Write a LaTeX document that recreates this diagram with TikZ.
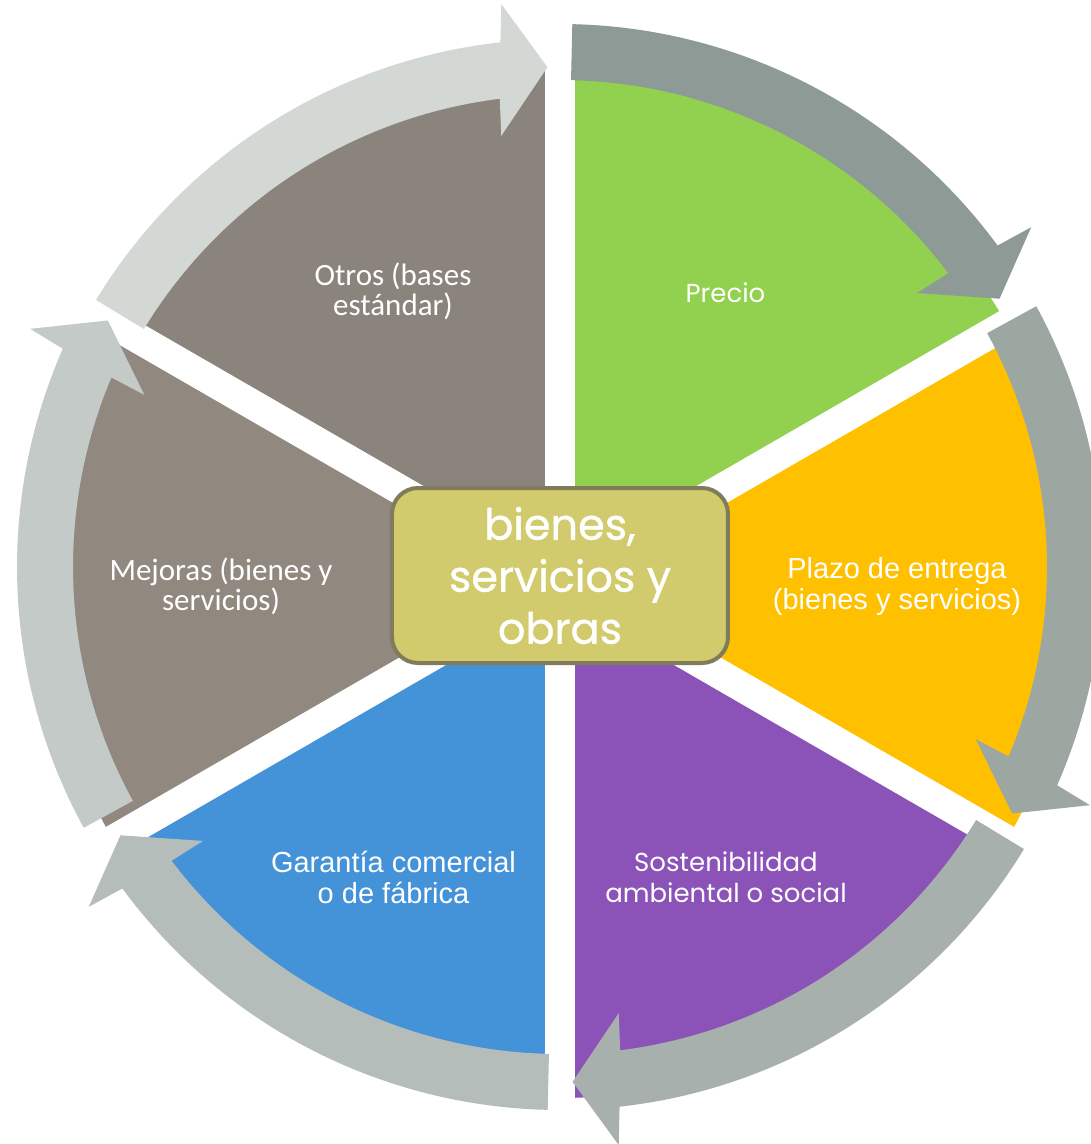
\documentclass[tikz,border=0pt]{standalone}
\usepackage{fontspec}
\newfontfamily\poppinsf{Poppins}
\newfontfamily\poppinsbf[FakeBold=0.9]{Poppins}
\newfontfamily\arialf{Liberation Sans}
\newfontfamily\calibf{Carlito}
\definecolor{cPrecio}{HTML}{92D050}
\definecolor{cPlazo}{HTML}{FFC000}
\definecolor{cSost}{HTML}{8B52B7}
\definecolor{cGar}{HTML}{4492D8}
\definecolor{cMej}{HTML}{918980}
\definecolor{cOtros}{HTML}{8B847C}
\definecolor{aA}{HTML}{8E9A96}
\definecolor{aB}{HTML}{9DA7A2}
\definecolor{aC}{HTML}{A8B0AD}
\definecolor{aD}{HTML}{B5BDBA}
\definecolor{aE}{HTML}{C4CAC8}
\definecolor{aF}{HTML}{D3D8D5}
\definecolor{cBox}{HTML}{D1CB6E}
\definecolor{cBoxLine}{HTML}{7F7B5B}
% sector: #1 start angle, #2 end angle, #3 bisector, #4 colour
\newcommand\pieslice[4]{%
  \fill[#4, shift={(0,-15)}] (#3:30) -- ({#1+1.67}:516)
    arc[start angle={#1+1.67}, end angle={#2-1.67}, radius=516] -- cycle;}
% circular arrow: #1 rotation, #2 colour, #3 vertical shift
\newcommand\cyclearrow[3]{%
  \fill[#2, shift={(0,#3)}] ({88.7+#1}:543)
    arc[start angle={88.7+#1}, end angle={36.3+#1}, radius=543]
    -- ({35.8+#1}:581) -- ({31.4+#1}:515) -- ({37.5+#1}:450) -- ({37.1+#1}:487)
    arc[start angle={37.1+#1}, end angle={88.7+#1}, radius=487] -- cycle;}
\begin{document}
\begin{tikzpicture}[x=1pt,y=1pt,
  lbl/.style={text=white, align=center, inner sep=0pt},
  arialtxt/.style={lbl, font=\arialf\fontsize{29}{31}\selectfont},
  calibtxt/.style={lbl, font=\calibf\fontsize{31}{30}\selectfont},
  poptxt/.style={lbl, font=\poppinsf\fontsize{26}{31}\selectfont},
  centerbox/.style={draw=cBoxLine, line width=4pt, fill=cBox, rounded corners=26pt,
    minimum width=336pt, minimum height=175pt, text=white, align=center,
    font=\poppinsbf\fontsize{43}{52}\selectfont}]
\useasboundingbox (-560,-577) rectangle (531,567);
% sectors
\pieslice{30}{90}{60}{cPrecio}
\pieslice{-30}{30}{0}{cPlazo}
\pieslice{-90}{-30}{-60}{cSost}
\pieslice{-150}{-90}{-120}{cGar}
\pieslice{150}{210}{180}{cMej}
\pieslice{90}{150}{120}{cOtros}
% arrows
\cyclearrow{0}{aA}{0}
\cyclearrow{300}{aB}{0}
\cyclearrow{240}{aC}{0}
\cyclearrow{180}{aD}{0}
\cyclearrow{120}{aE}{0}
\cyclearrow{60}{aF}{-15}
% centre
\node[centerbox] (box) at (0,-8.5) {bienes,\\servicios y\\obras};
% labels
\node[calibtxt] (otros) at (-167,276) {Otros (bases\\estándar)};
\node[poptxt] (precio) at (165.5,274) {Precio};
\node[arialtxt] (plazo) at (337,-19.5) {Plazo de entrega\\(bienes y servicios)};
\node[calibtxt] (mejoras) at (-339,-19.5) {Mejoras (bienes y\\servicios)};
\node[arialtxt] (garantia) at (-166.5,-310.5) {Garantía comercial\\o de fábrica};
\node[poptxt] (sost) at (166,-310.5) {Sostenibilidad\\ambiental o social};
\end{tikzpicture}
\end{document}
